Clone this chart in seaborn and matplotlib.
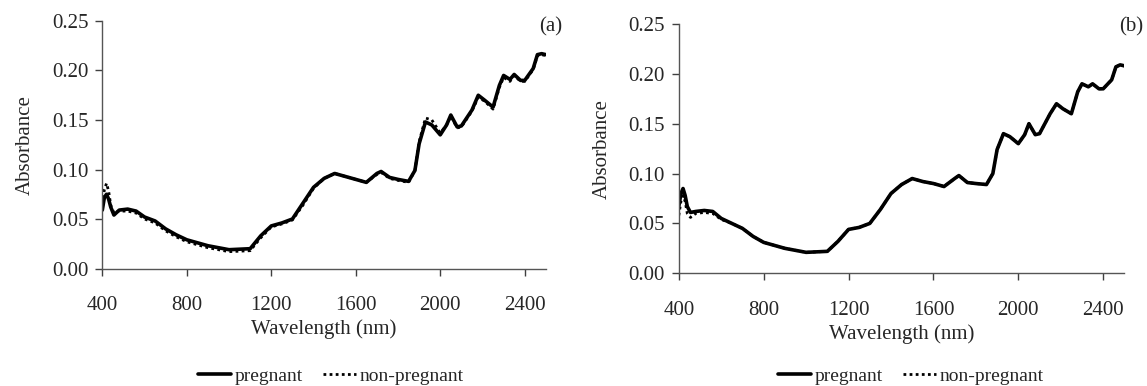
import matplotlib
matplotlib.use("Agg")
import matplotlib.pyplot as plt
import seaborn as sns
import pandas as pd

# Wavelength grid (nm) shared by all spectra
wavelength = [400, 410, 420, 430, 440, 455, 480, 520, 560, 600, 650, 700, 750, 800,
              900, 1000, 1100, 1150, 1200, 1250, 1300, 1350, 1400, 1450, 1500, 1550,
              1600, 1650, 1700, 1720, 1760, 1800, 1850, 1880, 1900, 1930, 1960, 2000,
              2030, 2050, 2080, 2100, 2150, 2180, 2210, 2250, 2280, 2300, 2330, 2350,
              2380, 2400, 2440, 2460, 2480, 2500]

# Panel (a)
pregnant_a = [0.059, 0.072, 0.075, 0.070, 0.062, 0.054, 0.059, 0.060, 0.058, 0.052,
              0.048, 0.040, 0.034, 0.029, 0.023, 0.019, 0.020, 0.033, 0.043, 0.046,
              0.050, 0.066, 0.082, 0.091, 0.096, 0.093, 0.090, 0.087, 0.096, 0.098,
              0.092, 0.090, 0.088, 0.099, 0.126, 0.148, 0.145, 0.135, 0.145, 0.155,
              0.143, 0.144, 0.160, 0.175, 0.170, 0.163, 0.185, 0.195, 0.191, 0.196,
              0.190, 0.190, 0.202, 0.216, 0.217, 0.216]
non_pregnant_a = [0.065, 0.080, 0.086, 0.078, 0.064, 0.056, 0.058, 0.058, 0.056, 0.050,
                  0.046, 0.038, 0.032, 0.027, 0.021, 0.017, 0.018, 0.031, 0.042, 0.045,
                  0.049, 0.064, 0.081, 0.091, 0.096, 0.093, 0.090, 0.087, 0.095, 0.097,
                  0.091, 0.089, 0.087, 0.099, 0.128, 0.152, 0.150, 0.137, 0.145, 0.154,
                  0.142, 0.143, 0.159, 0.173, 0.169, 0.161, 0.183, 0.193, 0.189, 0.195,
                  0.189, 0.189, 0.201, 0.215, 0.216, 0.215]

# Panel (b)
pregnant_b = [0.067, 0.080, 0.085, 0.078, 0.067, 0.061, 0.062, 0.063, 0.062, 0.055,
              0.050, 0.045, 0.037, 0.031, 0.025, 0.021, 0.022, 0.032, 0.044, 0.046,
              0.050, 0.064, 0.080, 0.089, 0.095, 0.092, 0.090, 0.087, 0.095, 0.098,
              0.091, 0.090, 0.089, 0.100, 0.124, 0.140, 0.137, 0.130, 0.139, 0.150,
              0.139, 0.140, 0.160, 0.170, 0.165, 0.160, 0.182, 0.190, 0.187, 0.190,
              0.185, 0.185, 0.194, 0.207, 0.209, 0.208]
non_pregnant_b = [0.058, 0.072, 0.078, 0.072, 0.060, 0.056, 0.060, 0.061, 0.060, 0.054,
                  0.050, 0.045, 0.037, 0.031, 0.025, 0.021, 0.022, 0.032, 0.044, 0.046,
                  0.050, 0.064, 0.080, 0.089, 0.095, 0.092, 0.090, 0.087, 0.095, 0.098,
                  0.091, 0.090, 0.089, 0.100, 0.124, 0.140, 0.137, 0.130, 0.139, 0.150,
                  0.139, 0.140, 0.160, 0.170, 0.165, 0.160, 0.182, 0.190, 0.187, 0.190,
                  0.185, 0.185, 0.194, 0.207, 0.209, 0.208]

panel_labels = ["(a)", "(b)"]
x_ticks = [400, 800, 1200, 1600, 2000, 2400]
y_ticks = [0.00, 0.05, 0.10, 0.15, 0.20, 0.25]

sns.set_style("white")
plt.rcParams["font.family"] = ["Liberation Serif", "DejaVu Serif"]

fig = plt.figure(figsize=(11.47, 3.86), dpi=100)
ax_a = fig.add_axes([0.0892, 0.3044, 0.3867, 0.6412])
ax_b = fig.add_axes([0.5918, 0.2920, 0.3885, 0.6459])

panels = [(ax_a, pregnant_a, non_pregnant_a), (ax_b, pregnant_b, non_pregnant_b)]
tag_pos = [(1.037, 1.016), (1.043, 1.028)]
legend_x = [0.2886, 0.794]

for i, ((ax, preg, nonpreg), tag) in enumerate(zip(panels, panel_labels)):
    df = pd.DataFrame({"wl": wavelength, "preg": preg, "nonpreg": nonpreg})
    sns.lineplot(data=df, x="wl", y="preg", ax=ax, color="black", lw=2.6,
                 estimator=None, label="pregnant")
    sns.lineplot(data=df, x="wl", y="nonpreg", ax=ax, color="black", lw=2.0,
                 linestyle=(0, (1, 1.2)), estimator=None, label="non-pregnant")

    ax.set_xlim(400, 2500)
    ax.set_ylim(0, 0.25)
    ax.set_xticks(x_ticks)
    ax.set_yticks(y_ticks)
    ax.set_yticklabels([f"{v:.2f}" for v in y_ticks])
    ax.tick_params(axis="both", labelsize=15, length=5, width=1, color="#404040",
                   direction="out", left=True, bottom=True)
    ax.tick_params(axis="x", pad=15)
    ax.tick_params(axis="y", pad=5)
    for s in ["top", "right"]:
        ax.spines[s].set_visible(False)
    for s in ["left", "bottom"]:
        ax.spines[s].set_color("#555555")
        ax.spines[s].set_linewidth(1)

    ax.set_xlabel("Wavelength (nm)", fontsize=15, labelpad=3)
    ax.set_ylabel("Absorbance", fontsize=15, labelpad=12)
    tx, ty = tag_pos[i]
    ax.text(tx, ty, tag, transform=ax.transAxes, fontsize=15, ha="right", va="top")

    handles, labels = ax.get_legend_handles_labels()
    ax.get_legend().remove()
    fig.legend(handles, labels, loc="center", bbox_to_anchor=(legend_x[i], 0.026),
               ncol=2, frameon=False, fontsize=14, handlelength=1.7,
               handletextpad=0.2, columnspacing=1.0)

fig.savefig("out.png", dpi=100)
